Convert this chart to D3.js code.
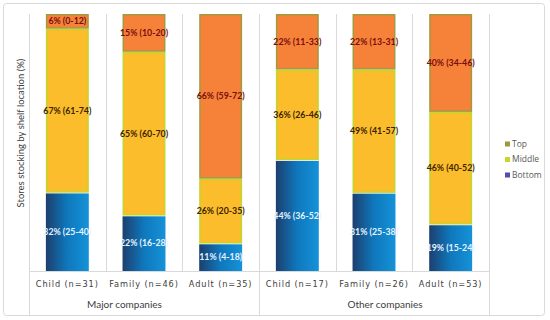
<!DOCTYPE html>
<html><head><meta charset="utf-8">
<script src="https://cdn.jsdelivr.net/npm/d3@7"></script>
<style>body{margin:0;background:#fff}svg{display:block}</style>
</head><body><svg id="c" width="550" height="320"></svg>
<script>
const categories = ["Child (n=31)","Family (n=46)","Adult (n=35)","Child (n=17)","Family (n=26)","Adult (n=53)"];
const groups = ["Major companies","Other companies"];
const bottomVals = [32,22,11,44,31,19];
const middleVals = [67,65,26,36,49,46];
const topVals = [6,15,66,22,22,40];
const bottomCI = ["25-40","16-28","4-18","36-52","25-38","15-24"];
const middleCI = ["61-74","60-70","20-35","26-46","41-57","40-52"];
const topCI = ["0-12","10-20","59-72","11-33","13-31","34-46"];
const seriesNames = ["Top","Middle","Bottom"];

const svg = d3.select("#c");
const defs = svg.append("defs");
const g1 = defs.append("linearGradient").attr("id","blue").attr("x1","0").attr("x2","1").attr("y1","0").attr("y2","0");
g1.append("stop").attr("offset","0").attr("stop-color","#1c3f6e");
g1.append("stop").attr("offset","0.5").attr("stop-color","#0f78bd");
g1.append("stop").attr("offset","1").attr("stop-color","#1592d8");

// outer frame
svg.append("rect").attr("x",3.5).attr("y",3.5).attr("width",541).attr("height",312).attr("rx",3)
  .attr("fill","#fff").attr("stroke","#d9d9d9");

const x = d3.scaleBand().domain(categories).range([29,489]).paddingInner(0.44).paddingOuter(0.22);
const y = d3.scaleLinear().domain([0,1]).range([271,14]);

// vertical separators
const bounds = d3.range(7).map(i => 29 + i*(460/6));
svg.selectAll("line.sep").data(bounds).enter().append("line")
  .attr("x1",d=>Math.round(d)+0.5).attr("x2",d=>Math.round(d)+0.5).attr("y1",14).attr("y2",(d,i)=> (i===0||i===3||i===6)? 315 : 271)
  .attr("stroke","#d9d9d9").attr("stroke-width",1);
svg.append("line").attr("x1",29).attr("x2",489).attr("y1",271.5).attr("y2",271.5).attr("stroke","#d9d9d9");

const data = categories.map((c,i)=>{
  const tot = bottomVals[i]+middleVals[i]+topVals[i];
  const b = bottomVals[i]/tot, m = middleVals[i]/tot;
  return {c, segs:[
    {k:"bottom", y0:0, y1:b, v:bottomVals[i], ci:bottomCI[i]},
    {k:"middle", y0:b, y1:b+m, v:middleVals[i], ci:middleCI[i]},
    {k:"top", y0:b+m, y1:1, v:topVals[i], ci:topCI[i]}
  ]};
});
const fills = {bottom:"url(#blue)", middle:"#fbbd2b", top:"#f6823a"};
const strokes = {bottom:"none", middle:"#c4d52e", top:"#a39a3e"};
const tcol = {bottom:"#e6f4ff", middle:"#3b2200", top:"#7a0d0d"};

const bars = svg.selectAll("g.bar").data(data).enter().append("g").attr("transform",d=>`translate(${x(d.c)},0)`);
bars.selectAll("rect").data(d=>d.segs).enter().append("rect")
  .attr("x",s=>s.k==="bottom"?0:0.75).attr("width",s=>s.k==="bottom"?x.bandwidth():x.bandwidth()-1.5)
  .attr("y",s=>y(s.y1)+0.75).attr("height",s=>y(s.y0)-y(s.y1)-(s.k==="bottom"?0.75:1.5))
  .attr("fill",s=>fills[s.k]).attr("stroke",s=>strokes[s.k]).attr("stroke-width",1.5);
bars.selectAll("text").data(d=>d.segs).enter().append("text")
  .attr("x",x.bandwidth()/2).attr("y",s=>(y(s.y0)+y(s.y1))/2).attr("dy","0.35em")
  .attr("text-anchor","middle").attr("font-family","Lato, 'Open Sans', sans-serif")
  .attr("font-weight","bold").attr("font-size",8.8).attr("fill",s=>tcol[s.k])
  .text(s=>`${s.v}% (${s.ci})`);

// x axis labels
svg.selectAll("text.cat").data(categories).enter().append("text")
  .attr("x",d=>x(d)+x.bandwidth()/2).attr("y",284).attr("dy","0.35em").attr("text-anchor","middle")
  .attr("font-family","'DejaVu Sans', sans-serif").attr("font-size",8.2).attr("letter-spacing",0.9)
  .attr("fill","#404040").text(d=>d);
const gx = [124.5, 385];
svg.selectAll("text.grp").data(groups).enter().append("text")
  .attr("x",(d,i)=>gx[i]).attr("y",304).attr("dy","0.35em").attr("text-anchor","middle")
  .attr("font-family","Lato, 'Open Sans', sans-serif").attr("font-size",10)
  .attr("fill","#404040").text(d=>d);

// y title
svg.append("text").attr("transform","translate(21,133) rotate(-90)").attr("text-anchor","middle").attr("dy","0.35em")
  .attr("font-family","Lato, 'Open Sans', sans-serif").attr("font-size",9.5).attr("fill","#404040")
  .text("Stores stocking by shelf location (%)");

// legend
const legCol = {Top:"#9c9a3c", Middle:"#c8d62b", Bottom:"#4f4fb0"};
const lg = svg.selectAll("g.leg").data(seriesNames).enter().append("g")
  .attr("transform",(d,i)=>`translate(505,${144+i*15.5})`);
lg.append("rect").attr("x",0).attr("y",-2.5).attr("width",5).attr("height",5).attr("fill",d=>legCol[d]);
lg.append("text").attr("x",7).attr("y",0).attr("dy","0.35em").attr("font-family","'Open Sans', sans-serif")
  .attr("font-size",8.5).attr("fill","#595959").text(d=>d);
</script></body></html>
